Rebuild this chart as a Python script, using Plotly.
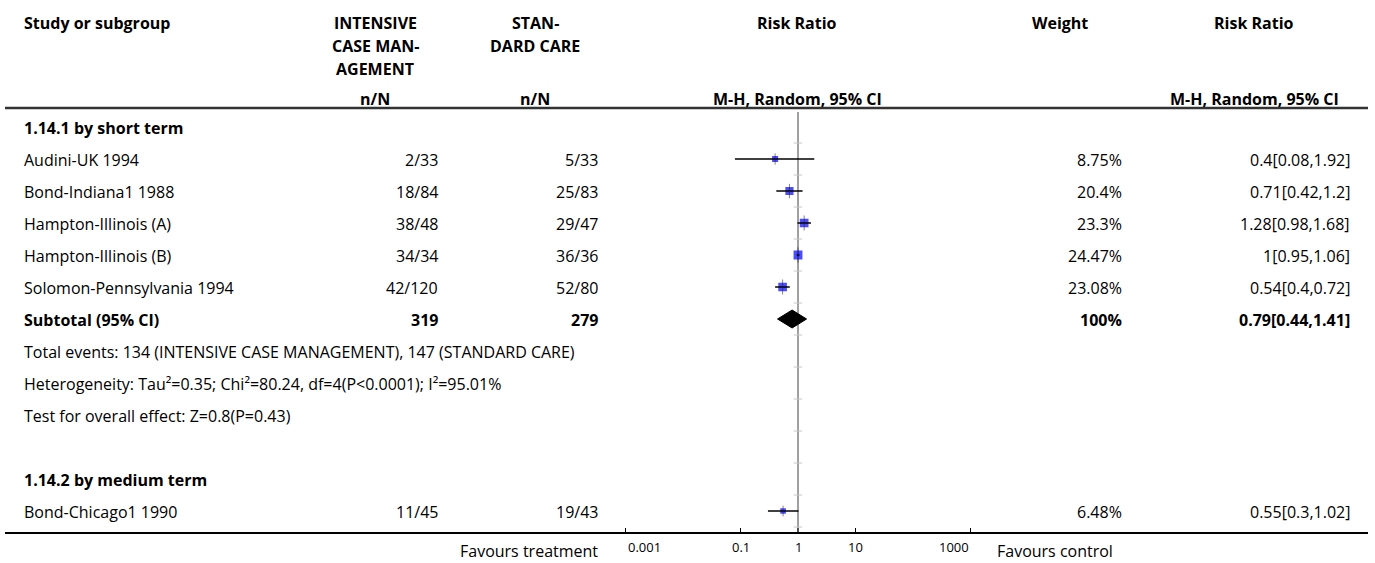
import math
import plotly.graph_objects as go

# ---- data -------------------------------------------------------------
group1_title = "1.14.1 by short term"
group1_studies = ["Audini-UK 1994", "Bond-Indiana1 1988", "Hampton-Illinois (A)",
                  "Hampton-Illinois (B)", "Solomon-Pennsylvania 1994"]
group1_treat = ["2/33", "18/84", "38/48", "34/34", "42/120"]
group1_ctrl = ["5/33", "25/83", "29/47", "36/36", "52/80"]
group1_weight = [8.75, 20.4, 23.3, 24.47, 23.08]
group1_rr = [0.4, 0.71, 1.28, 1.0, 0.54]
group1_lo = [0.08, 0.42, 0.98, 0.95, 0.4]
group1_hi = [1.92, 1.2, 1.68, 1.06, 0.72]

subtotal_treat = 319
subtotal_ctrl = 279
subtotal_weight = 100
subtotal_rr, subtotal_lo, subtotal_hi = 0.79, 0.44, 1.41

group1_notes = [
    "Total events: 134 (INTENSIVE CASE MANAGEMENT), 147 (STANDARD CARE)",
    "Heterogeneity: Tau²=0.35; Chi²=80.24, df=4(P<0.0001); I²=95.01%",
    "Test for overall effect: Z=0.8(P=0.43)",
]

group2_title = "1.14.2 by medium term"
group2_studies = ["Bond-Chicago1 1990"]
group2_treat = ["11/45"]
group2_ctrl = ["19/43"]
group2_weight = [6.48]
group2_rr = [0.55]
group2_lo = [0.3]
group2_hi = [1.02]

axis_ticks = [0.001, 0.1, 1, 10, 1000]
axis_ticklabels = ["0.001", "0.1", "1", "10", "1000"]

# ---- layout constants (pixels) ---------------------------------------
W, H = 1375, 563
FONT = "Open Sans"
FS = 16
BLACK = "#000000"
BLUE = "#0000FF"

ROW0 = 127          # centre of the first table row
ROW_H = 32          # row pitch
TEXT_DY = 1         # small baseline nudge for table text
X_NAME = 22
X_TREAT = 440
X_CTRL = 600
X_WEIGHT = 1124
X_RR = 1352
AXIS_Y = 533
HEADER_LINE_Y = 108
ONE_PX = 798        # pixel position of RR = 1
DECADE_PX = 57.5
LOG_RANGE = (-3.5, 3.5)

dom0 = (ONE_PX + LOG_RANGE[0] * DECADE_PX) / W
dom1 = (ONE_PX + LOG_RANGE[1] * DECADE_PX) / W


def fmt_ci(e, lo, hi):
    return f"{e:g}[{lo:g},{hi:g}]"


def row_y(i):
    return ROW0 + i * ROW_H


fig = go.Figure()
ann = []


def text(x, y, s, anchor="left", bold=False, size=FS, color=BLACK):
    if bold:
        s = f"<b>{s}</b>"
    ann.append(dict(x=x, y=y + TEXT_DY, xref="x", yref="y", text=s, showarrow=False,
                    xanchor=anchor, yanchor="middle",
                    font=dict(family=FONT, size=size, color=color)))


# ---- header -------------------------------------------------------------
text(X_NAME, 22, "Study or subgroup", bold=True)
for j, s in enumerate(["INTENSIVE", "CASE MAN-", "AGEMENT"]):
    text(375, 22 + j * 23, s, anchor="center", bold=True)
for j, s in enumerate(["STAN-", "DARD CARE"]):
    text(535, 22 + j * 23, s, anchor="center", bold=True)
text(797, 22, "Risk Ratio", anchor="center", bold=True)
text(1060, 22, "Weight", anchor="center", bold=True)
text(1254, 22, "Risk Ratio", anchor="center", bold=True)
text(375, 98, "n/N", anchor="center", bold=True)
text(535, 98, "n/N", anchor="center", bold=True)
text(797, 98, "M-H, Random, 95% CI", anchor="center", bold=True)
text(1254, 98, "M-H, Random, 95% CI", anchor="center", bold=True)

# ---- table rows ---------------------------------------------------------
r = 0
text(X_NAME, row_y(r), group1_title, bold=True)
r += 1
study_rows = []
for i, name in enumerate(group1_studies):
    y = row_y(r)
    text(X_NAME, y, name)
    text(X_TREAT, y, group1_treat[i], anchor="right")
    text(X_CTRL, y, group1_ctrl[i], anchor="right")
    text(X_WEIGHT, y, f"{group1_weight[i]:g}%", anchor="right")
    text(X_RR, y, fmt_ci(group1_rr[i], group1_lo[i], group1_hi[i]), anchor="right")
    study_rows.append((y, group1_rr[i], group1_lo[i], group1_hi[i], group1_weight[i]))
    r += 1

sub_y = row_y(r)
text(X_NAME, sub_y, "Subtotal (95% CI)", bold=True)
text(X_TREAT, sub_y, str(subtotal_treat), anchor="right", bold=True)
text(X_CTRL, sub_y, str(subtotal_ctrl), anchor="right", bold=True)
text(X_WEIGHT, sub_y, f"{subtotal_weight:g}%", anchor="right", bold=True)
text(X_RR, sub_y, fmt_ci(subtotal_rr, subtotal_lo, subtotal_hi), anchor="right", bold=True)
r += 1
for note in group1_notes:
    text(X_NAME, row_y(r), note)
    r += 1
r += 1
text(X_NAME, row_y(r), group2_title, bold=True)
r += 1
for i, name in enumerate(group2_studies):
    y = row_y(r)
    text(X_NAME, y, name)
    text(X_TREAT, y, group2_treat[i], anchor="right")
    text(X_CTRL, y, group2_ctrl[i], anchor="right")
    text(X_WEIGHT, y, f"{group2_weight[i]:g}%", anchor="right")
    text(X_RR, y, fmt_ci(group2_rr[i], group2_lo[i], group2_hi[i]), anchor="right")
    study_rows.append((y, group2_rr[i], group2_lo[i], group2_hi[i], group2_weight[i]))
    r += 1

# ---- forest plot -----------------------------------------------------------
# reference line at RR = 1 with small row separators
fig.add_trace(go.Scatter(x=[1, 1], y=[112, AXIS_Y], xaxis="x2", yaxis="y",
                         mode="lines", line=dict(color="#a0a0a0", width=2),
                         hoverinfo="skip", showlegend=False))
sep_y = [ROW0 + ROW_H / 2 + k * ROW_H for k in range(13)]
fig.add_trace(go.Scatter(x=[1] * len(sep_y), y=sep_y, xaxis="x2", yaxis="y",
                         mode="markers",
                         marker=dict(symbol="line-ew", size=6,
                                     line=dict(color="#c8c8c8", width=1)),
                         hoverinfo="skip", showlegend=False))

# study squares sized by weight
fig.add_trace(go.Scatter(
    x=[s[1] for s in study_rows], y=[s[0] for s in study_rows],
    xaxis="x2", yaxis="y", mode="markers",
    marker=dict(symbol="square", color=BLUE,
                size=[4.5 + 0.18 * s[4] for s in study_rows],
                line=dict(width=0)),
    hoverinfo="skip", showlegend=False))

# confidence intervals
ci_x, ci_y = [], []
for y, e, lo, hi, w in study_rows:
    ci_x += [lo, hi, None]
    ci_y += [y, y, None]
fig.add_trace(go.Scatter(x=ci_x, y=ci_y, xaxis="x2", yaxis="y", mode="lines",
                         line=dict(color=BLACK, width=1.4),
                         hoverinfo="skip", showlegend=False))
fig.add_trace(go.Scatter(
    x=[s[1] for s in study_rows], y=[s[0] for s in study_rows],
    xaxis="x2", yaxis="y", mode="markers",
    marker=dict(symbol="line-ns", size=[6.5 + 0.18 * s[4] for s in study_rows],
                line=dict(color="#222222", width=0.8)),
    hoverinfo="skip", showlegend=False))

# pooled diamond
DH = 9
fig.add_trace(go.Scatter(
    x=[subtotal_lo, subtotal_rr, subtotal_hi, subtotal_rr, subtotal_lo],
    y=[sub_y, sub_y - DH, sub_y, sub_y + DH, sub_y],
    xaxis="x2", yaxis="y", mode="lines", fill="toself",
    fillcolor=BLACK, line=dict(color=BLACK, width=1),
    hoverinfo="skip", showlegend=False))

# axis ticks
tick_x, tick_y = [], []
for t in axis_ticks:
    tick_x += [t, t, None]
    tick_y += [AXIS_Y, AXIS_Y - 5, None]
fig.add_trace(go.Scatter(x=tick_x, y=tick_y, xaxis="x2", yaxis="y", mode="lines",
                         line=dict(color=BLACK, width=1),
                         hoverinfo="skip", showlegend=False))
for k, (t, lab) in enumerate(zip(axis_ticks, axis_ticklabels)):
    anchor = "left" if k == 0 else ("right" if k == len(axis_ticks) - 1 else "center")
    ann.append(dict(x=math.log10(t), y=547, xref="x2", yref="y", text=lab,
                    showarrow=False, xanchor=anchor, yanchor="middle",
                    font=dict(family=FONT, size=13, color=BLACK)))

text(X_CTRL, 550, "Favours treatment", anchor="right")
text(995, 550, "Favours control", anchor="left")

# ---- rules --------------------------------------------------------------
shapes = [
    dict(type="line", xref="x", yref="y", x0=5, x1=1368,
         y0=HEADER_LINE_Y, y1=HEADER_LINE_Y, line=dict(color="#333333", width=2.5)),
    dict(type="line", xref="x", yref="y", x0=5, x1=1368,
         y0=AXIS_Y, y1=AXIS_Y, line=dict(color=BLACK, width=2)),
]

fig.update_layout(
    width=W, height=H,
    margin=dict(l=0, r=0, t=0, b=0),
    paper_bgcolor="white", plot_bgcolor="white",
    xaxis=dict(range=[0, W], domain=[0, 1], visible=False, fixedrange=True),
    xaxis2=dict(type="log", range=list(LOG_RANGE), domain=[dom0, dom1],
                anchor="y", visible=False, fixedrange=True),
    yaxis=dict(range=[H, 0], domain=[0, 1], visible=False, fixedrange=True),
    annotations=ann,
    shapes=shapes,
    showlegend=False,
)

fig.write_html("out.html", config={"displayModeBar": False})
